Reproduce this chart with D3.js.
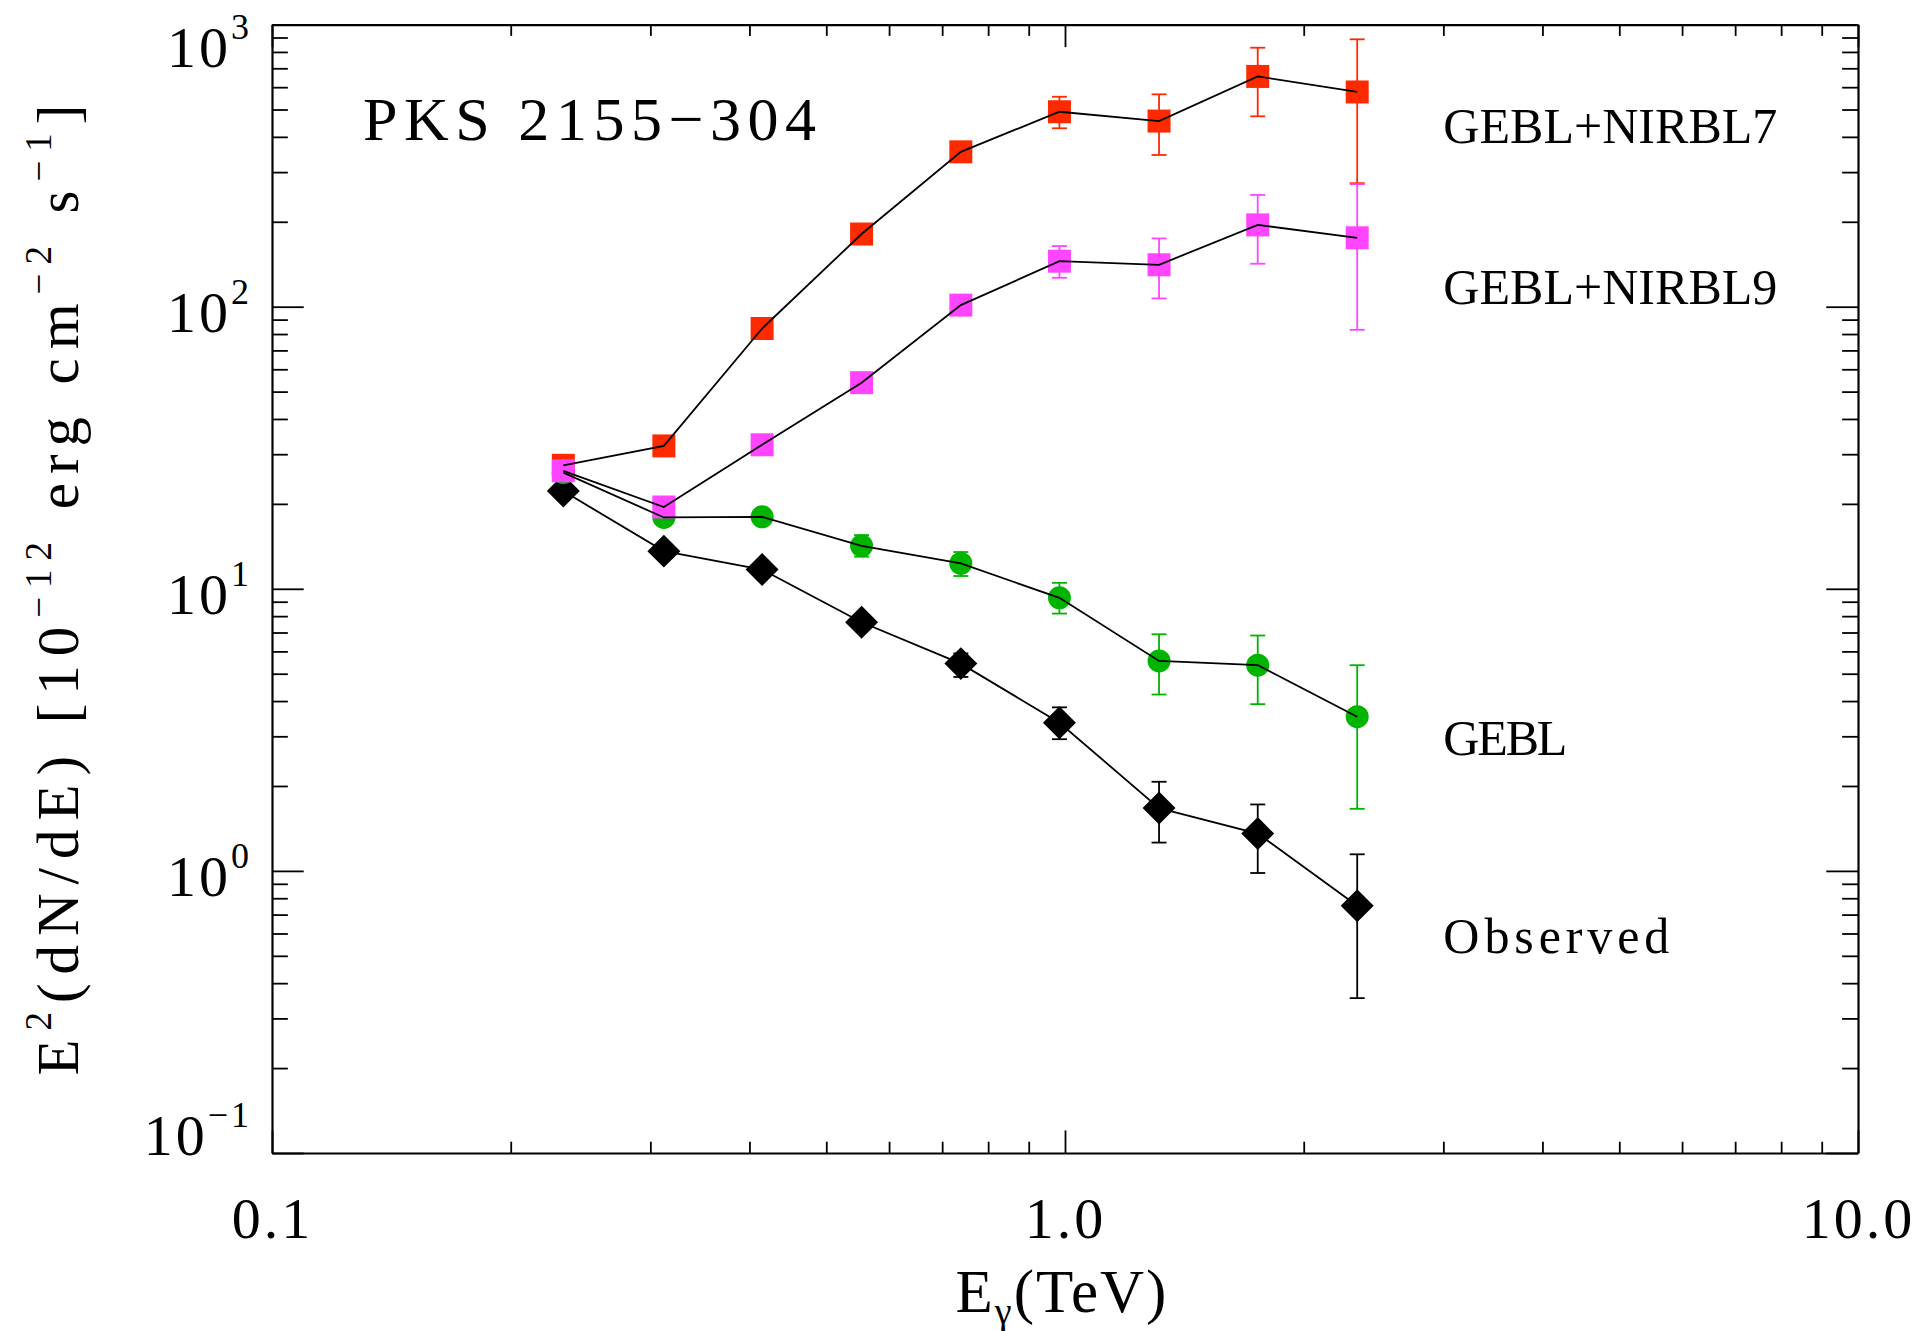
<!DOCTYPE html>
<html>
<head>
<meta charset="utf-8">
<script src="https://cdn.jsdelivr.net/npm/d3@7"></script>
<style>
  html, body { margin: 0; padding: 0; background: #fff; }
  svg { display: block; font-family: "Liberation Serif", "Times New Roman", serif; }
</style>
</head>
<body>
<svg id="chart" width="1929" height="1331"></svg>
<script>
// photon energies (TeV), shared by all four spectra
const energy = [0.233, 0.312, 0.415, 0.554, 0.739, 0.984, 1.314, 1.75, 2.336];

// E^2 dN/dE in 1e-12 erg cm^-2 s^-1, with error bar ends (null = bar hidden by marker)
const observed   = [22.2, 13.6, 11.7, 7.61, 5.43, 3.35, 1.67, 1.356, 0.753];
const observedLo = [null, null, null, null, 4.87, 2.93, 1.26, 0.983, 0.354];
const observedHi = [null, null, null, null, 5.90, 3.80, 2.07, 1.72, 1.145];

const gebl   = [25.8, 17.9, 18.0, 14.2, 12.3, 9.29, 5.55, 5.36, 3.52];
const geblLo = [null, null, null, 13.0, 11.1, 8.17, 4.22, 3.90, 1.66];
const geblHi = [null, null, null, 15.5, 13.5, 10.5, 6.90, 6.83, 5.36];

const nirbl7   = [27.4, 32.1, 83.7, 181, 354, 491, 455, 655, 577];
const nirbl7Lo = [null, null, null, null, null, 429, 345, 473, 274];
const nirbl7Hi = [null, null, null, null, null, 555, 566, 828, 887];

const nirbl9   = [26.2, 19.5, 32.4, 53.8, 101.3, 145, 140.8, 195, 175.5];
const nirbl9Lo = [null, null, null, null, null, 126.6, 107, 142, 82.8];
const nirbl9Hi = [null, null, null, null, null, 164, 174.6, 249, 272];

// curve labels: text and the (E, flux) anchor of their baseline start
const labelText = ['GEBL+NIRBL7', 'GEBL+NIRBL9', 'GEBL', 'Observed'];
const labelE    = [3.0, 3.0, 3.0, 3.0];
const labelF    = [380, 102, 2.57, 0.51];
const labelLen  = [334, 334, 124, 226];

// axis ticks
const xMajor = [0.1, 1, 10];
const xMajorLabels = ['0.1', '1.0', '10.0'];
const xMinor = [0.2, 0.3, 0.4, 0.5, 0.6, 0.7, 0.8, 0.9, 2, 3, 4, 5, 6, 7, 8, 9];
const yMajor = [0.1, 1, 10, 100, 1000];
const yMajorExp = ['\u22121', '0', '1', '2', '3'];
const yMinor = [0.2, 0.3, 0.4, 0.5, 0.6, 0.7, 0.8, 0.9,
                2, 3, 4, 5, 6, 7, 8, 9,
                20, 30, 40, 50, 60, 70, 80, 90,
                200, 300, 400, 500, 600, 700, 800, 900];

const FONT = '"Liberation Serif", "Times New Roman", serif';
const W = 1929, H = 1331;
const m = { left: 272, right: 71, top: 24.6, bottom: 178 };
const x = d3.scaleLog().domain([0.1, 10]).range([m.left, W - m.right]);
const y = d3.scaleLog().domain([0.1, 1000]).range([H - m.bottom, m.top]);
const svg = d3.select('#chart');

const xTick = 0.02 * (y.range()[0] - y.range()[1]);
const yTick = 0.02 * (x.range()[1] - x.range()[0]);

function styleAxis(g) {
  g.attr('font-family', FONT);
  g.select('.domain').attr('stroke', '#000').attr('stroke-width', 2.2);
  g.selectAll('.tick line').attr('stroke', '#000').attr('stroke-width', 1.8);
}

// bottom / top
const axB = svg.append('g').attr('transform', `translate(0,${y.range()[0]})`);
axB.call(d3.axisBottom(x).tickValues(xMajor).tickSize(-xTick).tickSizeOuter(0)
  .tickFormat((d, i) => xMajorLabels[i]));
axB.append('g').call(d3.axisBottom(x).tickValues(xMinor).tickSize(-xTick / 2).tickSizeOuter(0).tickFormat(''))
  .select('.domain').remove();
axB.selectAll('text')
  .attr('y', 85).attr('dy', 0)
  .attr('font-size', 58).attr('letter-spacing', 3)
  .attr('fill', '#000');
styleAxis(axB);

const axT = svg.append('g').attr('transform', `translate(0,${y.range()[1]})`);
axT.call(d3.axisTop(x).tickValues(xMajor).tickSize(-xTick).tickSizeOuter(0).tickFormat(''));
axT.append('g').call(d3.axisTop(x).tickValues(xMinor).tickSize(-xTick / 2).tickSizeOuter(0).tickFormat(''))
  .select('.domain').remove();
styleAxis(axT);

// left / right
const axL = svg.append('g').attr('transform', `translate(${x.range()[0]},0)`);
axL.call(d3.axisLeft(y).tickValues(yMajor).tickSize(-yTick).tickSizeOuter(0).tickFormat(''));
axL.append('g').call(d3.axisLeft(y).tickValues(yMinor).tickSize(-yTick / 2).tickSizeOuter(0).tickFormat(''))
  .select('.domain').remove();
styleAxis(axL);

axL.selectAll(':scope > .tick').each(function (d, i) {
  // end labels are pulled inside the axis range
  const dy = d === y.domain()[0] ? 1 : d === y.domain()[1] ? 42 : 25;
  const t = d3.select(this).append('text')
    .attr('x', -20).attr('y', dy)
    .attr('text-anchor', 'end')
    .attr('fill', '#000')
    .attr('font-size', 58)
    .attr('letter-spacing', 3);
  t.append('tspan').text('10');
  t.append('tspan').attr('font-size', 36).attr('dy', -28).text(yMajorExp[i]);
});

const axR = svg.append('g').attr('transform', `translate(${x.range()[1]},0)`);
axR.call(d3.axisRight(y).tickValues(yMajor).tickSize(-yTick).tickSizeOuter(0).tickFormat(''));
axR.append('g').call(d3.axisRight(y).tickValues(yMinor).tickSize(-yTick / 2).tickSizeOuter(0).tickFormat(''))
  .select('.domain').remove();
styleAxis(axR);

// axis titles
const xTitle = svg.append('text')
  .attr('x', 1062).attr('y', 1312)
  .attr('text-anchor', 'middle')
  .attr('font-size', 61)
  .attr('letter-spacing', 2);
xTitle.append('tspan').text('E');
xTitle.append('tspan').attr('font-size', 38).attr('dy', 12).text('\u03b3');
xTitle.append('tspan').attr('dy', -12).text('(TeV)');

const yTitle = svg.append('text')
  .attr('transform', 'translate(78,590) rotate(-90)')
  .attr('text-anchor', 'middle')
  .attr('font-size', 59)
  .attr('textLength', 971)
  .attr('lengthAdjust', 'spacing');
yTitle.append('tspan').text('E');
yTitle.append('tspan').attr('font-size', 37).attr('dy', -27).text('2');
yTitle.append('tspan').attr('dy', 27).text('(dN/dE) [10');
yTitle.append('tspan').attr('font-size', 37).attr('dy', -27).text('\u221212');
yTitle.append('tspan').attr('dy', 27).text(' erg cm');
yTitle.append('tspan').attr('font-size', 37).attr('dy', -27).text('\u22122');
yTitle.append('tspan').attr('dy', 27).text(' s');
yTitle.append('tspan').attr('font-size', 37).attr('dy', -27).text('\u22121');
yTitle.append('tspan').attr('dy', 27).text(']');

// source name
svg.append('text')
  .attr('x', 363).attr('y', 140)
  .attr('font-size', 62)
  .attr('textLength', 453)
  .attr('lengthAdjust', 'spacing')
  .text('PKS 2155\u2212304');

// spectra, drawn bottom layer first
const series = [
  { v: observed, lo: observedLo, hi: observedHi, color: '#000000', shape: 'diamond' },
  { v: gebl,     lo: geblLo,     hi: geblHi,     color: '#00b400', shape: 'circle' },
  { v: nirbl7,   lo: nirbl7Lo,   hi: nirbl7Hi,   color: '#fd2a00', shape: 'square' },
  { v: nirbl9,   lo: nirbl9Lo,   hi: nirbl9Hi,   color: '#ff45ff', shape: 'square' },
];

const capW = 7.5;
const plot = svg.append('g');

series.forEach((s) => {
  const pts = energy.map((e, i) => ({ e, v: s.v[i], lo: s.lo[i], hi: s.hi[i] }));
  const g = plot.append('g');

  const bars = g.selectAll('g.err').data(pts.filter((p) => p.lo !== null)).join('g')
    .attr('class', 'err')
    .attr('stroke', s.color).attr('stroke-width', 1.8);
  bars.append('line')
    .attr('x1', (p) => x(p.e)).attr('x2', (p) => x(p.e))
    .attr('y1', (p) => y(p.lo)).attr('y2', (p) => y(p.hi));
  bars.append('line')
    .attr('x1', (p) => x(p.e) - capW).attr('x2', (p) => x(p.e) + capW)
    .attr('y1', (p) => y(p.lo)).attr('y2', (p) => y(p.lo));
  bars.append('line')
    .attr('x1', (p) => x(p.e) - capW).attr('x2', (p) => x(p.e) + capW)
    .attr('y1', (p) => y(p.hi)).attr('y2', (p) => y(p.hi));

  const sym = s.shape === 'circle'
    ? d3.symbol().type(d3.symbolCircle).size(Math.PI * 11.5 * 11.5)
    : d3.symbol().type(d3.symbolSquare).size(s.shape === 'diamond' ? 23.3 * 23.3 : 23 * 23);
  g.selectAll('path.mark').data(pts).join('path')
    .attr('class', 'mark')
    .attr('d', sym)
    .attr('fill', s.color)
    .attr('transform', (p) => `translate(${x(p.e)},${y(p.v)})` + (s.shape === 'diamond' ? ' rotate(45)' : ''));
});

const line = d3.line().x((p) => x(p.e)).y((p) => y(p.v));
series.forEach((s) => {
  plot.append('path')
    .datum(energy.map((e, i) => ({ e, v: s.v[i] })))
    .attr('d', line)
    .attr('fill', 'none')
    .attr('stroke', '#000')
    .attr('stroke-width', 1.8);
});

// curve labels
svg.append('g').selectAll('text').data(labelText).join('text')
  .attr('x', (d, i) => x(labelE[i]))
  .attr('y', (d, i) => y(labelF[i]))
  .attr('font-size', 50)
  .attr('textLength', (d, i) => labelLen[i])
  .attr('lengthAdjust', 'spacing')
  .text((d) => d);
</script>
</body>
</html>
